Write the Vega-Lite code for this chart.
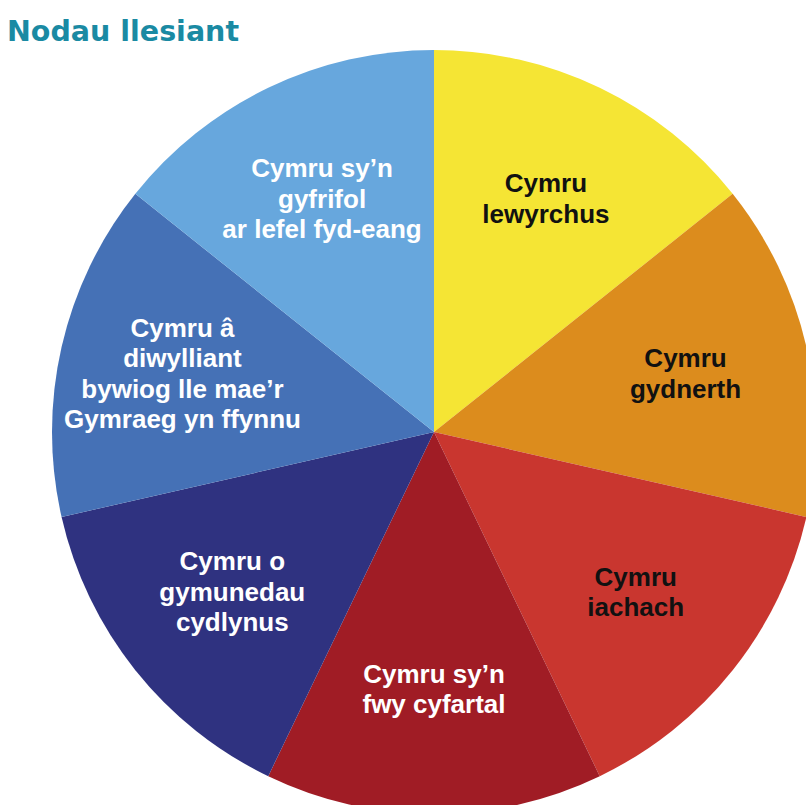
{
  "$schema": "https://vega.github.io/schema/vega-lite/v6.json",
  "autosize": "none",
  "width": 764,
  "height": 764,
  "padding": {"left": 52, "top": 50, "right": 0, "bottom": 0},
  "background": "white",
  "title": {
    "text": "Nodau llesiant",
    "anchor": "start",
    "dx": -45,
    "offset": 4,
    "font": "DejaVu Sans",
    "fontSize": 28.5,
    "fontWeight": "bold",
    "color": "#1a8aa3"
  },
  "config": {"view": {"stroke": null}},
  "data": {
    "values": [
      {"n": 1, "goal": "Cymru lewyrchus", "label": ["Cymru", "lewyrchus"], "share": 1},
      {"n": 2, "goal": "Cymru gydnerth", "label": ["Cymru", "gydnerth"], "share": 1},
      {"n": 3, "goal": "Cymru iachach", "label": ["Cymru", "iachach"], "share": 1},
      {"n": 4, "goal": "Cymru sy’n fwy cyfartal", "label": ["Cymru sy’n", "fwy cyfartal"], "share": 1},
      {"n": 5, "goal": "Cymru o gymunedau cydlynus", "label": ["Cymru o", "gymunedau", "cydlynus"], "share": 1},
      {"n": 6, "goal": "Cymru â diwylliant bywiog lle mae’r Gymraeg yn ffynnu", "label": ["Cymru â", "diwylliant", "bywiog lle mae’r", "Gymraeg yn ffynnu"], "share": 1},
      {"n": 7, "goal": "Cymru sy’n gyfrifol ar lefel fyd-eang", "label": ["Cymru sy’n", "gyfrifol", "ar lefel fyd-eang"], "share": 1}
    ]
  },
  "encoding": {
    "theta": {"field": "share", "type": "quantitative", "stack": true},
    "order": {"field": "n", "type": "quantitative"}
  },
  "layer": [
    {
      "mark": {"type": "arc", "stroke": null},
      "encoding": {
        "color": {
          "field": "goal",
          "type": "nominal",
          "legend": null,
          "scale": {
            "domain": [
              "Cymru lewyrchus",
              "Cymru gydnerth",
              "Cymru iachach",
              "Cymru sy’n fwy cyfartal",
              "Cymru o gymunedau cydlynus",
              "Cymru â diwylliant bywiog lle mae’r Gymraeg yn ffynnu",
              "Cymru sy’n gyfrifol ar lefel fyd-eang"
            ],
            "range": ["#f5e534", "#dc8c1d", "#c9362f", "#a01c25", "#2f3280", "#4571b6", "#67a7dd"]
          }
        }
      }
    },
    {
      "mark": {
        "type": "text",
        "radius": 258,
        "font": "Liberation Sans",
        "fontWeight": "bold",
        "fontSize": 26,
        "lineHeight": 30.5,
        "align": "center",
        "baseline": "middle",
        "dy": {"expr": "-(length(datum.label) - 1) * 15.25"}
      },
      "encoding": {
        "text": {"field": "label"},
        "color": {
          "condition": {"test": "datum.n <= 3", "value": "#111111"},
          "value": "#ffffff"
        }
      }
    }
  ]
}
